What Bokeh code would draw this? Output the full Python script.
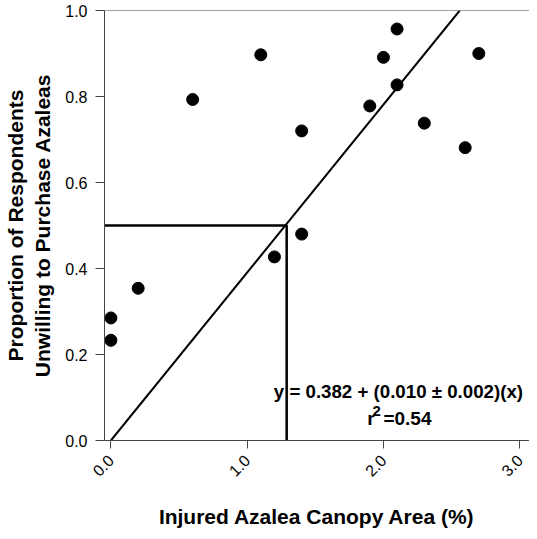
import math
from bokeh.plotting import figure
from bokeh.models import Range1d, FixedTicker, Span, Label
from bokeh.embed import file_html
from bokeh.resources import INLINE

# data
canopy = [0.0, 0.0, 0.2, 0.6, 1.1, 1.2, 1.4, 1.4, 1.9, 2.0, 2.1, 2.1, 2.3, 2.6, 2.7]
unwilling = [0.285, 0.233, 0.354, 0.793, 0.897, 0.427, 0.480, 0.720, 0.778, 0.891, 0.957, 0.827, 0.738, 0.681, 0.900]

fit_x = [0.0, 2.56]
fit_y = [0.0, 1.0]

ref_x = [-0.047, 1.29, 1.29]
ref_y = [0.5, 0.5, 0.0]

x_ticks = [0.0, 1.0, 2.0, 3.0]
y_ticks = [0.0, 0.2, 0.4, 0.6, 0.8, 1.0]

FONT = "Liberation Sans"

p = figure(width=529, height=531, output_backend="svg", toolbar_location=None,
           x_range=Range1d(-0.047, 3.072), y_range=Range1d(0.0, 1.0),
           min_border_left=98, min_border_right=0, min_border_top=10, min_border_bottom=91)
p.outline_line_color = None
p.grid.grid_line_color = None
p.background_fill_color = "white"
p.border_fill_color = "white"

p.xaxis.ticker = FixedTicker(ticks=x_ticks)
p.yaxis.ticker = FixedTicker(ticks=y_ticks)
p.xaxis.major_label_overrides = {t: f"{t:.1f}" for t in x_ticks}
p.yaxis.major_label_overrides = {t: f"{t:.1f}" for t in y_ticks}
p.xaxis.major_label_orientation = math.pi / 4

for ax in (p.xaxis, p.yaxis):
    ax.axis_line_color = "#444444"
    ax.axis_line_width = 1
    ax.major_tick_line_color = "#444444"
    ax.major_tick_in = 0
    ax.minor_tick_line_color = None
    ax.major_label_text_font = FONT
    ax.major_label_text_font_size = "16px"
    ax.major_label_text_color = "black"
    ax.axis_label_text_font = FONT
    ax.axis_label_text_font_size = "21px"
    ax.axis_label_text_font_style = "bold"
    ax.axis_label_text_color = "black"

p.xaxis.major_tick_out = 8
p.yaxis.major_tick_out = 9
p.yaxis.major_label_standoff = 8
p.xaxis.major_label_standoff = 9
p.xaxis.axis_label = "Injured Azalea Canopy Area (%)"
p.yaxis.axis_label = "Proportion of Respondents\nUnwilling to Purchase Azaleas"
p.yaxis.axis_label_text_line_height = 1.2
p.xaxis.axis_label_standoff = 20
p.yaxis.axis_label_standoff = 8

p.add_layout(Span(location=1.0, dimension="width", line_color="#444444", line_width=1))

p.line(fit_x, fit_y, line_color="black", line_width=2)
p.line(ref_x, ref_y, line_color="black", line_width=2.5)
p.scatter(canopy, unwilling, size=12, color="black")

p.add_layout(Label(x=2.11, y=0.0895, text="y = 0.382 + (0.010 \u00b1 0.002)(x)", text_align="center",
                   text_font=FONT, text_font_size="18.7px", text_font_style="bold", text_color="black"))
p.add_layout(Label(x=1.936, y=0.0266, text="r", text_align="right",
                   text_font=FONT, text_font_size="19px", text_font_style="bold", text_color="black"))
p.add_layout(Label(x=1.92, y=0.057, text="2", text_align="left",
                   text_font=FONT, text_font_size="15px", text_font_style="bold", text_color="black"))
p.add_layout(Label(x=2.0, y=0.0266, text="=0.54", text_align="left",
                   text_font=FONT, text_font_size="19px", text_font_style="bold", text_color="black"))

open("out.html", "w").write(file_html(p, INLINE))
